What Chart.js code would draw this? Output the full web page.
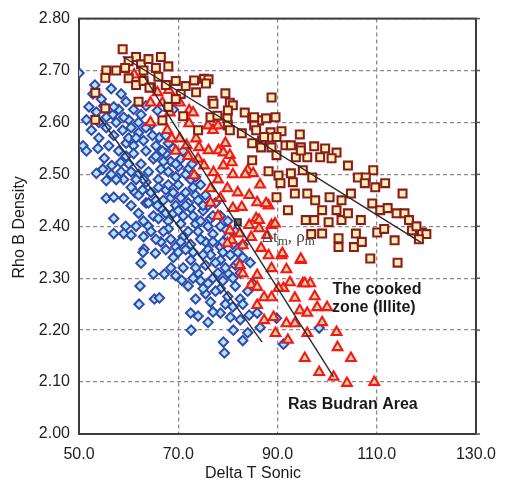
<!DOCTYPE html>
<html><head><meta charset="utf-8">
<script src="https://cdn.jsdelivr.net/npm/chart.js@4.4.1/dist/chart.umd.min.js"></script>
<style>html,body{margin:0;padding:0;background:#fff}canvas{display:block}</style>
</head><body>
<canvas id="c" width="507" height="481"></canvas>
<script>
// ---- data ----
const xTickValues = [50, 70, 90, 110, 130];
const yTickValues = [2.0, 2.1, 2.2, 2.3, 2.4, 2.5, 2.6, 2.7, 2.8];
const xTitle = "Delta T Sonic";
const yTitle = "Rho B Density";

const blueDiamonds = [
[50.0,2.695],[53.2,2.672],[52.8,2.655],[54.5,2.645],[56.5,2.665],[58.5,2.655],
[51.5,2.605],[53.5,2.620],[55.0,2.632],[56.8,2.615],[58.0,2.625],[59.5,2.640],[61.0,2.625],[62.5,2.615],[63.5,2.632],[57.5,2.600],[60.0,2.605],[65.8,2.623],[69.0,2.625],
[50.8,2.555],[52.5,2.585],[54.0,2.570],[55.5,2.590],[57.0,2.575],[58.8,2.585],[60.5,2.590],[62.0,2.580],[63.0,2.565],[64.5,2.595],[66.2,2.571],[65.5,2.555],[61.0,2.555],[67.5,2.575],[59.5,2.560],[56.0,2.555],
[51.5,2.545],[53.5,2.502],[55.1,2.531],[56.6,2.517],[58.4,2.523],[59.5,2.535],[61.0,2.540],[62.5,2.520],[63.5,2.545],[65.0,2.530],[66.5,2.510],[67.5,2.540],[68.5,2.525],[70.0,2.515],[64.0,2.505],[60.5,2.505],[71.0,2.545],[69.0,2.550],
[55.5,2.488],[55.5,2.454],[57.0,2.456],[59.0,2.454],[61.3,2.465],[59.0,2.490],[60.5,2.475],[62.0,2.460],[63.5,2.485],[64.5,2.465],[66.0,2.490],[67.5,2.470],[68.5,2.455],[70.0,2.480],[71.5,2.465],[72.5,2.490],[73.5,2.460],[65.5,2.450],[74.5,2.480],[69.5,2.495],
[57.0,2.415],[59.4,2.400],[60.5,2.440],[62.0,2.425],[63.5,2.445],[65.0,2.420],[66.5,2.435],[68.0,2.410],[69.5,2.440],[71.0,2.420],[72.5,2.435],[73.5,2.405],[75.0,2.430],[76.5,2.415],[77.5,2.445],[64.0,2.400],[70.5,2.405],[67.0,2.450],[74.0,2.450],[78.5,2.420],
[57.0,2.386],[59.0,2.386],[60.5,2.383],[63.1,2.356],[65.4,2.348],[62.9,2.350],[64.5,2.390],[66.5,2.370],[68.0,2.395],[69.5,2.360],[71.0,2.380],[72.5,2.365],[74.0,2.390],[75.5,2.370],[77.0,2.385],[78.5,2.360],[80.0,2.380],[73.0,2.350],[76.0,2.355],[79.5,2.395],[70.0,2.350],[81.0,2.365],
[62.5,2.329],[65.0,2.308],[67.2,2.308],[68.5,2.320],[70.7,2.296],[72.5,2.335],[74.0,2.310],[75.5,2.325],[77.0,2.300],[78.5,2.335],[80.0,2.310],[81.5,2.325],[83.0,2.340],[76.5,2.345],[79.0,2.350],
[62.3,2.285],[62.1,2.250],[65.2,2.260],[66.2,2.262],[73.5,2.260],[75.5,2.270],[76.5,2.254],[78.5,2.280],[80.0,2.265],[81.5,2.285],[82.5,2.260],[84.0,2.275],[85.0,2.290],
[72.5,2.233],[74.0,2.227],[72.6,2.200],[78.5,2.233],[79.1,2.177],[79.3,2.156],[81.1,2.200],[83.0,2.180],[84.3,2.229],[85.9,2.233],[89.8,2.223],[91.2,2.173],[98.4,2.204],[86.5,2.205],[84.0,2.195],
[65.5,2.535],[67.0,2.525],[68.0,2.505],[70.5,2.530],[72.0,2.510],[66.0,2.475],[68.0,2.480],[69.0,2.465],[70.5,2.455],[72.0,2.445],[73.0,2.475],[75.5,2.460],[76.0,2.440],[66.0,2.415],[67.5,2.425],[69.0,2.425],[70.0,2.430],[71.5,2.440],[73.0,2.420],[74.5,2.410],[76.0,2.400],[77.0,2.370],[74.5,2.375],[72.0,2.390],[70.5,2.370],[68.5,2.375],[67.0,2.390],[75.0,2.345],[77.5,2.330],[79.5,2.320],[78.0,2.310],[76.0,2.290],[74.5,2.295],[79.0,2.295],[81.0,2.300],[82.5,2.310],[80.5,2.345],[82.0,2.350],[62.0,2.500],[63.0,2.490],[60.0,2.520],[58.0,2.545],
[58.5,2.505],[57.5,2.490],[61.5,2.490],[62.8,2.470],[64.0,2.445],[65.8,2.440],[63.0,2.410],[61.5,2.400],[63.0,2.380],[65.5,2.375],[67.5,2.355],[69.0,2.340],[71.5,2.355],[73.5,2.320],[71.0,2.320],[69.5,2.305],[72.0,2.285],[73.0,2.300],[75.0,2.280],[77.5,2.275],[79.5,2.250],[81.0,2.245],[83.0,2.250],[77.0,2.235],[80.5,2.225],[82.5,2.220],[76.0,2.215],[60.0,2.570],[61.5,2.570],[63.5,2.590],[64.8,2.575],[62.0,2.600],[59.0,2.610],[57.0,2.630],[55.5,2.610],[54.0,2.600],[52.0,2.630],[53.8,2.550],[54.8,2.510],[56.5,2.500],[66.8,2.545],[68.0,2.560],[69.5,2.520],[71.5,2.500],[73.5,2.495],[72.8,2.520],[75.0,2.440],[77.0,2.420],[78.5,2.400],[80.0,2.410],[81.5,2.390],[79.0,2.370],[83.0,2.365],[84.5,2.330],[82.0,2.330]
];

const redTriangles = [
[61.1,2.692],[62.9,2.686],[65.8,2.658],[64.4,2.638],[66.8,2.638],[68.1,2.662],[70.3,2.638],[72.2,2.623],[68.3,2.619],[64.4,2.600],[67.8,2.585],[68.7,2.569],[70.3,2.569],[71.7,2.556],[72.2,2.598],[73.0,2.619],
[76.0,2.594],[77.0,2.585],[78.0,2.594],[73.6,2.569],[74.2,2.552],[76.1,2.546],[78.1,2.546],[79.1,2.542],[80.4,2.537],
[69.5,2.545],[72.0,2.535],[74.0,2.530],[75.2,2.517],[77.1,2.504],[79.1,2.517],[80.8,2.523],[73.2,2.498],[76.5,2.473],[79.9,2.473],[82.0,2.465],[78.5,2.454],[84.3,2.460],[85.9,2.446],[88.2,2.440],[82.8,2.437],[81.0,2.435],
[84.0,2.508],[85.1,2.502],[87.7,2.444],[85.7,2.415],[88.8,2.402],[86.3,2.396],
[86.3,2.412],[84.3,2.402],[80.4,2.392],[82.4,2.386],[84.7,2.379],[87.9,2.383],[80.8,2.373],[79.9,2.367],[83.0,2.363],[86.7,2.358],[90.8,2.344],[88.2,2.344],[94.7,2.335],[82.4,2.325],[88.8,2.319],[91.0,2.348],[91.8,2.317],[94.7,2.337],[95.1,2.290],[96.6,2.290],
[83.0,2.309],[85.9,2.306],[84.7,2.287],[85.9,2.283],[87.3,2.263],[88.8,2.263],[85.9,2.248],[89.2,2.225],[87.3,2.219],[89.6,2.194],[92.1,2.181],[91.8,2.213],[93.5,2.213],[91.2,2.281],[92.5,2.292],[95.5,2.290],[93.5,2.262],[94.5,2.238],[96.0,2.233],[95.5,2.146],[96.0,2.194],[90.2,2.281],
[98.0,2.244],[100.0,2.244],[101.9,2.196],[102.1,2.167],[104.8,2.146],[98.4,2.119],[101.3,2.110],[104.0,2.098],[109.5,2.100],
[78.0,2.490],[83.5,2.500],[86.5,2.480],[81.0,2.500],[79.5,2.560],[78.0,2.420],[76.5,2.445],[89.5,2.405],[97.5,2.265],[99.0,2.215]
];

const brownSquares = [
[53.3,2.605],[55.3,2.627],[53.3,2.657],[55.5,2.700],[55.3,2.686],
[58.8,2.741],[61.5,2.726],[60.0,2.718],[62.5,2.712],[64.0,2.722],[66.5,2.726],[57.5,2.700],[59.3,2.705],[63.0,2.700],[65.5,2.705],[68.0,2.708],
[60.0,2.685],[61.5,2.672],[63.0,2.680],[64.5,2.668],[66.0,2.688],[67.5,2.672],[69.5,2.680],[71.5,2.670],[73.2,2.681],[75.2,2.684],[76.1,2.683],[73.6,2.658],[75.6,2.675],[70.5,2.655],[64.2,2.667],[79.5,2.656],
[62.0,2.640],[66.8,2.604],[68.0,2.630],[69.5,2.645],[71.0,2.612],[76.9,2.642],[77.1,2.636],[80.4,2.638],[81.0,2.633],[80.0,2.623],[83.4,2.619],[76.5,2.610],[77.9,2.613],[79.9,2.608],[84.9,2.608],[86.3,2.604],[87.7,2.608],[89.6,2.610],[88.8,2.648],[85.3,2.610],
[74.0,2.585],[80.0,2.594],[80.4,2.585],[85.3,2.594],[85.7,2.585],[82.8,2.579],[88.6,2.581],[90.8,2.583],[94.5,2.577],[84.9,2.560],[86.9,2.565],[88.6,2.571],[86.7,2.552],[88.8,2.552],[91.6,2.556],[92.7,2.556],[94.7,2.552],[93.7,2.533],[96.0,2.533],[89.8,2.537],[87.3,2.572],[89.8,2.572],[97.4,2.554],[99.6,2.550],[101.9,2.542],[94.7,2.546],[98.6,2.533],[100.9,2.531],[104.2,2.517],[109.3,2.508],[106.2,2.494],[107.8,2.494],[107.6,2.483],[111.7,2.483],[109.7,2.475],[115.2,2.463],
[84.9,2.527],[88.2,2.506],[90.2,2.498],[90.6,2.483],[92.7,2.502],[95.1,2.508],[97.0,2.494],[93.1,2.485],[89.8,2.456],[93.5,2.463],[96.0,2.463],[97.6,2.450],[100.5,2.456],[102.9,2.450],[104.8,2.463],[92.1,2.431],[95.7,2.412],[97.4,2.412],[99.0,2.431],[100.3,2.408],[101.9,2.431],[102.9,2.412],[104.2,2.425],[106.8,2.412],[109.1,2.444],[110.7,2.431],[112.2,2.435],[114.0,2.425],[115.6,2.425],[116.5,2.412],[117.1,2.392],[119.1,2.388],[99.0,2.386],[102.3,2.377],[105.8,2.386],[110.1,2.388],[113.6,2.373],
[102.3,2.360],[105.4,2.360],[108.7,2.338],[114.2,2.330],[118.0,2.400],[120.0,2.385],[118.5,2.375],[111.5,2.395],[107.0,2.370],[96.8,2.385]
];

// trend lines (end points)
const brownTrendX = [58.8, 118.9], brownTrendY = [2.727, 2.369];
const redTrendX   = [63.0, 101.3], redTrendY   = [2.690, 2.110];
const blueTrendX  = [54.1, 86.9],  blueTrendY  = [2.610, 2.177];
const matrixPointX = [82.0], matrixPointY = [2.408];

// ---- helpers ----
const pts = arr => arr.map(p => ({x: p[0], y: p[1]}));
const zipPts = (xs, ys) => xs.map((v, i) => ({x: v, y: ys[i]}));
const FONT = "'Liberation Sans', Arial, sans-serif";

const deco = {
  id: 'deco',
  beforeDatasetsDraw(chart) {
    const {ctx, chartArea: a, scales: {y}} = chart;
    ctx.save();
    ctx.strokeStyle = '#3c3c3c';
    ctx.lineWidth = 2;
    ctx.strokeRect(a.left, a.top, a.right - a.left, a.bottom - a.top);
    ctx.lineWidth = 1.5;
    ctx.strokeStyle = '#555';
    y.ticks.forEach(t => {
      const py = y.getPixelForValue(t.value);
      ctx.beginPath(); ctx.moveTo(a.right, py); ctx.lineTo(a.right + 4, py); ctx.stroke();
    });
    ctx.restore();
  },
  afterDatasetsDraw(chart) {
    const {ctx, chartArea: a, scales: {x, y}} = chart;
    ctx.save();
    ctx.fillStyle = '#1a1a1a';
    ctx.textBaseline = 'middle';
    ctx.textAlign = 'left';
    ctx.font = "bold 16px " + FONT;
    ctx.fillText("The cooked", x.getPixelForValue(101.1), y.getPixelForValue(2.279));
    ctx.fillText("zone (Illite)", x.getPixelForValue(101.0), y.getPixelForValue(2.244));
    ctx.fillText("Ras Budran Area", x.getPixelForValue(92.1), y.getPixelForValue(2.056));
    // matrix label
    ctx.fillStyle = '#444';
    let px = x.getPixelForValue(86.9), py = y.getPixelForValue(2.378);
    const seg = [["Δt", 17, 0], ["m", 13, 4], [", ρ", 17, 0], ["m", 13, 4]];
    seg.forEach(s => {
      ctx.font = s[1] + "px 'Liberation Serif', 'DejaVu Serif', serif";
      ctx.fillText(s[0], px, py + s[2]);
      px += ctx.measureText(s[0]).width;
    });
    // axis titles
    ctx.fillStyle = '#1a1a1a';
    ctx.font = "16px " + FONT;
    ctx.textAlign = 'center';
    ctx.fillText(xTitle, 253, a.bottom + 40);
    ctx.translate(20, (a.top + a.bottom) / 2 + 1);
    ctx.rotate(-Math.PI / 2);
    ctx.fillText(yTitle, 0, 0);
    ctx.restore();
  }
};

new Chart(document.getElementById('c'), {
  type: 'scatter',
  data: {
    datasets: [
      {label: 'brownTrend', type: 'line', data: zipPts(brownTrendX, brownTrendY), borderColor: '#2a2a2a', borderWidth: 1.4, pointRadius: 0, fill: false, order: 0},
      {label: 'redTrend', type: 'line', data: zipPts(redTrendX, redTrendY), borderColor: '#2a2a2a', borderWidth: 1.4, pointRadius: 0, fill: false, order: 0},
      {label: 'blueTrend', type: 'line', data: zipPts(blueTrendX, blueTrendY), borderColor: '#2a2a2a', borderWidth: 1.4, pointRadius: 0, fill: false, order: 0},
      {label: 'matrix', data: zipPts(matrixPointX, matrixPointY), pointStyle: 'rect', pointRadius: 4.5, pointBackgroundColor: '#6a6a6a', pointBorderColor: '#222', pointBorderWidth: 1.5, order: 0},
      {label: 'cooked', data: pts(brownSquares), pointStyle: 'rect', pointRadius: 5.6, pointBackgroundColor: '#fff0b4', pointBorderColor: '#8a1c1c', pointBorderWidth: 2.1, order: 1},
      {label: 'red', data: pts(redTriangles), pointStyle: 'triangle', pointRadius: 5.6, pointBackgroundColor: '#b9deaa', pointBorderColor: '#ff1414', pointBorderWidth: 2.1, order: 2},
      {label: 'blue', data: pts(blueDiamonds), pointStyle: 'rectRot', pointRadius: 4.7, pointBackgroundColor: '#a8ecff', pointBorderColor: '#3646ad', pointBorderWidth: 2.0, order: 3}
    ]
  },
  options: {
    responsive: false,
    animation: false,
    devicePixelRatio: 1,
    layout: {padding: {left: 0, top: 18, right: 18, bottom: 0}},
    plugins: {legend: {display: false}, tooltip: {enabled: false}},
    scales: {
      x: {
        type: 'linear', min: xTickValues[0], max: xTickValues[xTickValues.length - 1],
        afterBuildTicks: s => { s.ticks = xTickValues.map(v => ({value: v})); },
        afterFit: s => { s.height = 47; },
        grid: {color: '#8c8c8c', lineWidth: 1.3, drawTicks: false},
        border: {display: false, dash: [4, 3]},
        ticks: {padding: 11, color: '#1e1e1e', font: {family: FONT, size: 16}, maxRotation: 0, callback: v => Number(v).toFixed(1)}
      },
      y: {
        type: 'linear', min: yTickValues[0], max: yTickValues[yTickValues.length - 1],
        afterBuildTicks: s => { s.ticks = yTickValues.map(v => ({value: v})); },
        afterFit: s => { s.width = 79; },
        grid: {color: '#8c8c8c', lineWidth: 1.3, drawTicks: false},
        border: {display: false, dash: [4, 3]},
        ticks: {padding: 9, color: '#1e1e1e', font: {family: FONT, size: 16}, callback: v => Number(v).toFixed(2)}
      }
    }
  },
  plugins: [deco]
});
</script>
</body></html>
